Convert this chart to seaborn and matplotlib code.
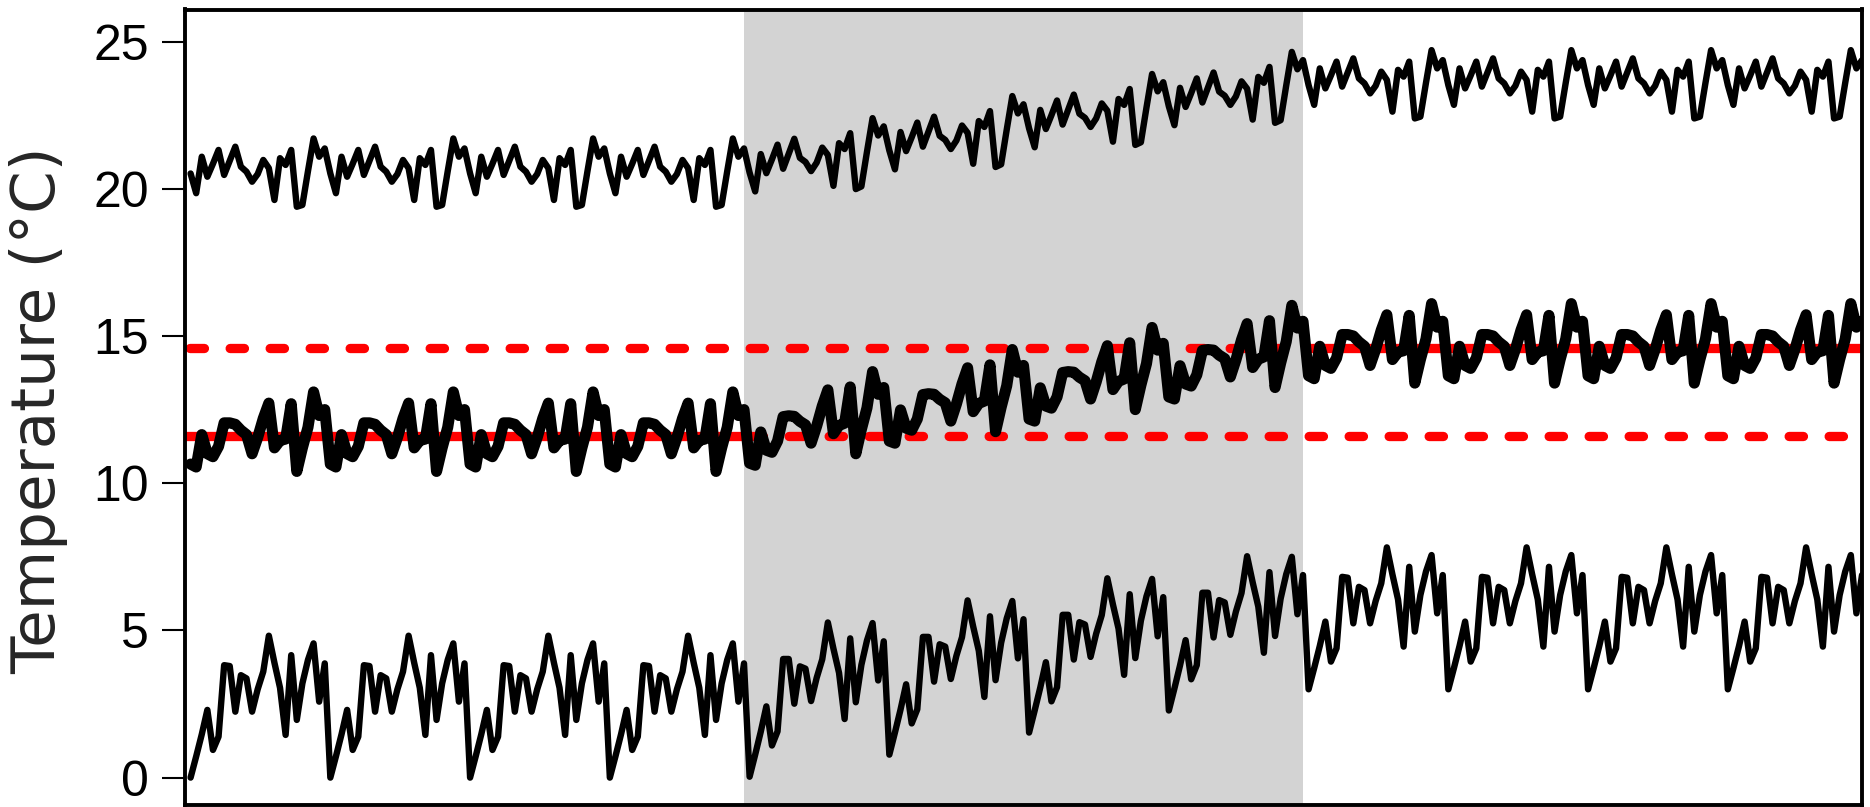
import numpy as np
import pandas as pd
import seaborn as sns
import matplotlib.pyplot as plt

# the same cycle repeats through the whole record
tmax_cycle = [20.52, 19.85, 21.09, 20.41, 20.85, 21.32, 20.47, 20.95, 21.43, 20.75,
              20.58, 20.24, 20.50, 20.98, 20.70, 19.62, 21.04, 20.81, 21.32, 19.39,
              19.45, 20.60, 21.71, 21.09, 21.37]
tmean_cycle = [10.65, 10.55, 11.65, 11.00, 10.90, 11.25, 12.05, 12.05, 12.00, 11.80,
               11.65, 11.00, 11.55, 12.20, 12.72, 11.20, 11.45, 11.50, 12.70, 10.40,
               11.20, 11.90, 13.10, 12.30, 12.50]
tmin_cycle = [0.00, 0.72, 1.47, 2.30, 0.94, 1.39, 3.82, 3.79, 2.24, 3.48,
              3.37, 2.24, 3.00, 3.60, 4.82, 3.90, 3.05, 1.45, 4.16, 1.96,
              3.20, 4.00, 4.56, 2.58, 3.88]
n_cycles = 12

# period edges (x) and the warming read at each edge; shaded = transition
period_edges = [0, 100, 200, 300]
warming = [0.0, 0.0, 3.0, 3.0]
ref_levels = [11.6, 14.6]  # red reference means (before / after)
y_ticks = [0, 5, 10, 15, 20, 25]

x = np.arange(1, len(tmax_cycle) * n_cycles + 1)
shift = np.interp(x, period_edges, warming)
df = pd.DataFrame({
    'x': x,
    'tmax': np.tile(tmax_cycle, n_cycles) + shift,
    'tmean': np.tile(tmean_cycle, n_cycles) + shift,
    'tmin': np.tile(tmin_cycle, n_cycles) + shift,
})

sns.set_style('white')
plt.rcParams['font.family'] = ['Liberation Sans', 'DejaVu Sans']
plt.rcParams['lines.scale_dashes'] = False

fig = plt.figure(figsize=(18.7, 8.07), dpi=100)
ax = fig.add_axes([185 / 1870, 2 / 807, 1677 / 1870, 795.5 / 807])

ax.axvspan(period_edges[1], period_edges[2], color='#d3d3d3', lw=0, zorder=0)

red_lw = 6.7
dash = (25.45, (10.3, 18.5))
# "before" mean: solid over its own period, dashed afterwards
ax.plot(period_edges[0:2], [ref_levels[0]] * 2, color='red', lw=red_lw,
        solid_capstyle='butt', zorder=2)
ax.plot([period_edges[1], period_edges[3]], [ref_levels[0]] * 2, color='red', lw=red_lw,
        ls=dash, dash_capstyle='round', zorder=2)
# "after" mean: dashed before its period, solid within it
ax.plot([period_edges[0], period_edges[2]], [ref_levels[1]] * 2, color='red', lw=red_lw,
        ls=dash, dash_capstyle='round', zorder=2)
ax.plot(period_edges[2:4], [ref_levels[1]] * 2, color='red', lw=red_lw,
        solid_capstyle='butt', zorder=2)

for col, lw in [('tmax', 4.6), ('tmean', 8.0), ('tmin', 4.6)]:
    sns.lineplot(data=df, x='x', y=col, color='black', lw=lw, ax=ax,
                 solid_joinstyle='round', zorder=3)

ax.set_xlim(period_edges[0], period_edges[-1])
ax.set_ylim(-0.93, 26.09)
ax.set_xticks([])
ax.set_yticks(y_ticks)
ax.set_xlabel('')
ax.set_ylabel('Temperature (°C)', family=['DejaVu Sans'], fontsize=44, va='center')
ax.yaxis.set_label_coords((39 - 185) / 1677, 0.4965)

ax.tick_params(axis='y', left=True, length=16.6, width=1.5, pad=9.4,
               labelsize=36, direction='out', color='black', labelcolor='black')
for s in ax.spines.values():
    s.set_color('black')
    s.set_linewidth(2.8)

fig.savefig('out.png', dpi=100)
